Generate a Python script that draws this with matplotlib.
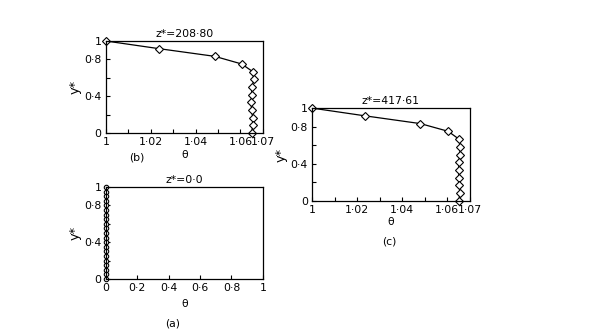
import matplotlib
matplotlib.use("Agg")
import matplotlib.pyplot as plt
import numpy as np

# panel (b): z* = 208.80
theta_b = [1.0, 1.0236, 1.0486, 1.0606, 1.0655, 1.0660, 1.0652, 1.0650,
           1.0648, 1.0650, 1.0655, 1.0655, 1.0650]
# panel (c): z* = 417.61
theta_c = [1.0, 1.0234, 1.0481, 1.0604, 1.0651, 1.0658, 1.0655, 1.0652,
           1.0650, 1.0652, 1.0654, 1.0655, 1.0652]
y_bc = [1.0, 0.917, 0.833, 0.75, 0.667, 0.583, 0.5, 0.417, 0.333,
        0.25, 0.167, 0.083, 0.0]
# panel (a): z* = 0.0
theta_a = [0.0] * 21
y_a = [1.0, 0.95, 0.9, 0.85, 0.8, 0.75, 0.7, 0.65, 0.6, 0.55, 0.5,
       0.45, 0.4, 0.35, 0.3, 0.25, 0.2, 0.15, 0.1, 0.05, 0.0]

FS = 7.8
plt.rcParams['font.family'] = 'DejaVu Sans'

fig = plt.figure(figsize=(5.98, 3.33), dpi=100)

yticks = [0, 0.2, 0.4, 0.6, 0.8, 1.0]
ylabels = ['0', '', '0·4', '', '0·8', '1']


def style(ax):
    ax.tick_params(direction='in', length=3, width=0.8, labelsize=FS,
                   top=False, right=False, pad=3)
    for s in ax.spines.values():
        s.set_linewidth(0.9)
    ax.set_ylim(0, 1)
    ax.set_yticks(yticks)
    ax.set_yticklabels(ylabels)


# (b)
axb = fig.add_axes([0.177, 0.6006, 0.2625, 0.2763])
axb.plot(theta_b, y_bc, color='black', lw=0.9, marker='D', ms=4.3,
         mfc='white', mec='black', mew=0.8, clip_on=False)
axb.set_xlim(1.0, 1.07)
axb.set_xticks(np.arange(1.0, 1.0701, 0.01))
axb.set_xticklabels(['1', '', '1·02', '', '1·04', '', '1·06', '1·07'])
style(axb)
axb.set_title('z*=208·80', fontsize=FS, pad=3)
axb.set_ylabel('y*', fontsize=FS + 1.5, labelpad=2)
axb.set_xlabel('θ', fontsize=FS, labelpad=2)
fig.text(0.229, 0.527, '(b)', fontsize=FS, ha='center', va='center')

# (c)
axc = fig.add_axes([0.5217, 0.3964, 0.264, 0.279])
axc.plot(theta_c, y_bc, color='black', lw=0.9, marker='D', ms=4.3,
         mfc='white', mec='black', mew=0.8, clip_on=False)
axc.set_xlim(1.0, 1.07)
axc.set_xticks(np.arange(1.0, 1.0701, 0.01))
axc.set_xticklabels(['1', '', '1·02', '', '1·04', '', '1·06', '1·07'])
style(axc)
axc.set_title('z*=417·61', fontsize=FS, pad=3)
axc.set_ylabel('y*', fontsize=FS + 1.5, labelpad=2)
axc.set_xlabel('θ', fontsize=FS, labelpad=1)
fig.text(0.651, 0.276, '(c)', fontsize=FS, ha='center', va='center')

# (a)
axa = fig.add_axes([0.177, 0.1622, 0.2625, 0.2763])
axa.plot(theta_a, y_a, color='black', lw=0.9, marker='o', ms=3.2,
         mfc='white', mec='black', mew=0.8, clip_on=False)
axa.set_xlim(0, 1)
axa.set_xticks([0, 0.2, 0.4, 0.6, 0.8, 1.0])
axa.set_xticklabels(['0', '0·2', '0·4', '0·6', '0·8', '1'])
style(axa)
axa.set_title('z*=0·0', fontsize=FS, pad=3)
axa.set_ylabel('y*', fontsize=FS + 1.5, labelpad=2)
axa.set_xlabel('θ', fontsize=FS, labelpad=4)
fig.text(0.289, 0.03, '(a)', fontsize=FS, ha='center', va='center')

fig.savefig('out.png', dpi=100)
